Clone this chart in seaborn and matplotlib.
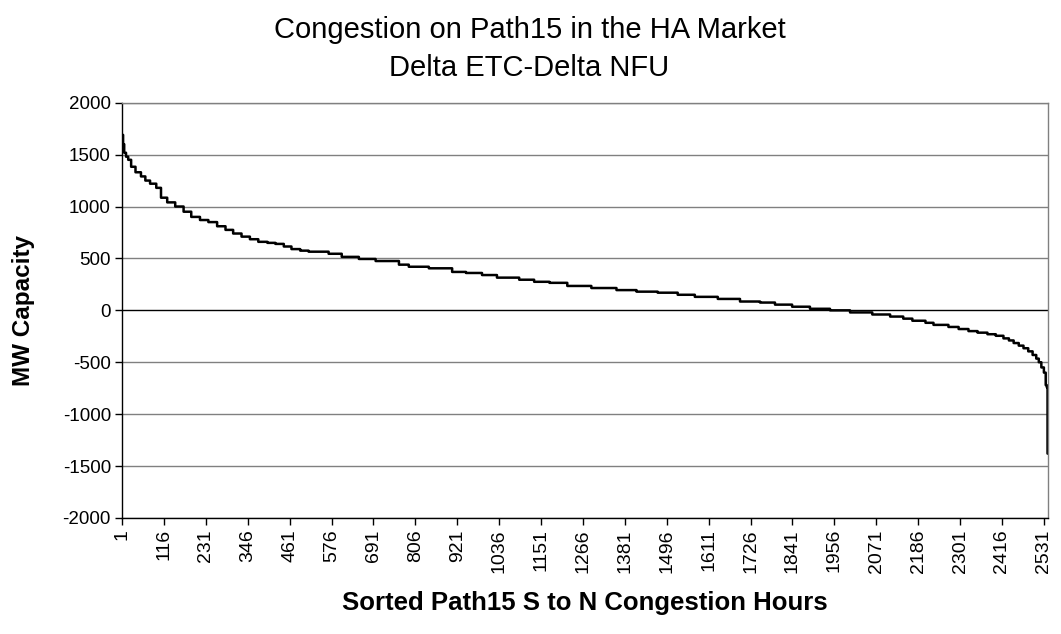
import numpy as np
import pandas as pd
import matplotlib
matplotlib.use("Agg")
import matplotlib.pyplot as plt
import seaborn as sns

# sorted congestion hours: each MW level is held from its start hour
# until the next start hour
start_hour = [1, 4, 7, 12, 18, 26, 38, 53, 65, 78,
              95, 108, 125, 147, 170, 191, 215, 238, 262, 285,
              306, 329, 352, 375, 400, 422, 445, 466, 490, 513,
              568, 604, 651, 697, 761, 788, 843, 907, 945, 989,
              1030, 1091, 1132, 1174, 1223, 1289, 1358, 1413, 1471, 1526,
              1573, 1636, 1697, 1752, 1793, 1840, 1889, 1944, 1999, 2060,
              2109, 2145, 2170, 2206, 2228, 2269, 2297, 2324, 2349, 2376,
              2399, 2420, 2435, 2448, 2462, 2475, 2488, 2500, 2510, 2517,
              2524, 2531, 2536, 2539, 2541]
mw_level = [1690, 1600, 1518, 1480, 1450, 1383, 1330, 1290, 1250, 1220,
            1180, 1085, 1040, 1000, 950, 900, 870, 850, 810, 775,
            740, 710, 685, 660, 650, 640, 615, 590, 575, 565,
            545, 515, 495, 475, 440, 420, 405, 370, 360, 340,
            315, 295, 275, 265, 235, 215, 195, 180, 170, 150,
            130, 110, 85, 75, 55, 35, 15, 0, -20, -40,
            -60, -80, -100, -120, -140, -160, -180, -200, -215, -230,
            -245, -270, -290, -315, -340, -365, -395, -430, -465, -500,
            -550, -600, -720, -740, -1380]

x_ticks = list(range(1, 2532, 115))
y_ticks = list(range(-2000, 2001, 500))

n_hours = 2543
hours = np.arange(1, n_hours + 1)
idx = np.searchsorted(start_hour, hours, side="right") - 1
df = pd.DataFrame({"hour": hours, "mw": np.array(mw_level)[idx]})

sns.set_theme(style="white")
plt.rcParams["font.family"] = ["Liberation Sans", "DejaVu Sans"]
plt.rcParams["text.color"] = "black"
plt.rcParams["xtick.color"] = "black"
plt.rcParams["ytick.color"] = "black"
plt.rcParams["axes.labelcolor"] = "black"

fig = plt.figure(figsize=(10.61, 6.34), dpi=100)
ax = fig.add_axes([0.115, 0.183, 0.873, 0.655])

for y in y_ticks:
    ax.axhline(y, color="black" if y == 0 else "#808080", lw=1.0, zorder=0)

sns.lineplot(data=df, x="hour", y="mw", ax=ax, color="black", lw=1.8,
             drawstyle="steps-post")

ax.set_xlim(1, n_hours)
ax.set_ylim(-2000, 2000)
ax.set_xticks(x_ticks)
ax.set_xticklabels([str(t) for t in x_ticks], rotation=90, fontsize=14)
ax.set_yticks(y_ticks)
ax.set_yticklabels([str(t) for t in y_ticks], fontsize=13.5)
ax.tick_params(axis="both", direction="out", length=5, width=1, color="black",
               pad=3, bottom=True, left=True)

for side in ["top", "right"]:
    ax.spines[side].set_color("#808080")
for side in ["left", "bottom"]:
    ax.spines[side].set_color("black")
for s in ax.spines.values():
    s.set_linewidth(1.0)

ax.set_xlabel("Sorted Path15 S to N Congestion Hours", fontsize=18.5,
              fontweight="bold", labelpad=13)
ax.set_ylabel("MW Capacity", fontsize=17.5, fontweight="bold", labelpad=20)
fig.text(0.499, 0.975, "Congestion on Path15 in the HA Market\nDelta ETC-Delta NFU",
         ha="center", va="top", fontsize=21, linespacing=1.45)

fig.savefig("out.png", dpi=100, facecolor="white")
